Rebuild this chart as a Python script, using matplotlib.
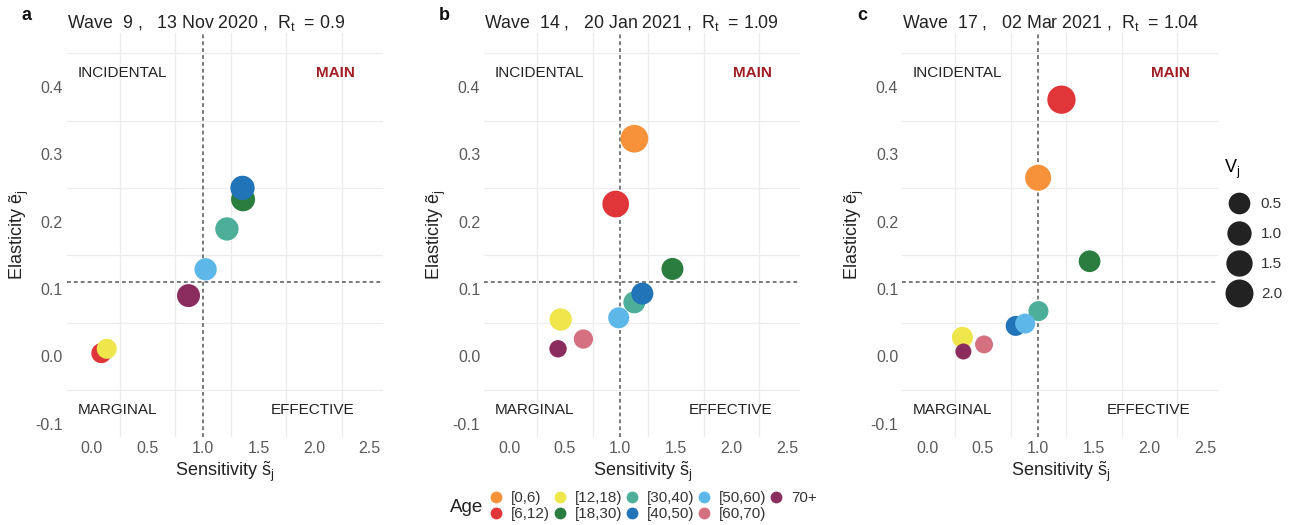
import matplotlib
matplotlib.use("Agg")
import matplotlib.pyplot as plt
from matplotlib.lines import Line2D
import numpy as np

plt.rcParams['font.family'] = ['Liberation Sans', 'DejaVu Sans']
plt.rcParams['mathtext.fontset'] = 'custom'
plt.rcParams['mathtext.rm'] = 'Liberation Sans'
plt.rcParams['mathtext.it'] = 'Liberation Sans'
plt.rcParams['mathtext.bf'] = 'Liberation Sans:bold'

# ---------------- data ----------------
age_groups = ["[0,6)", "[6,12)", "[12,18)", "[18,30)", "[30,40)",
              "[40,50)", "[50,60)", "[60,70)", "70+"]
age_colors = ["#F7923A", "#E0363A", "#EEE64A", "#2A7D3F", "#4DAE9A",
              "#2274B8", "#5DB7E8", "#D4707F", "#8A2D5E"]

panel_letters = ["a", "b", "c"]
wave_numbers = [9, 14, 17]
wave_dates = ["13 Nov 2020", "20 Jan 2021", "02 Mar 2021"]
rt_values = ["0.9", "1.09", "1.04"]

# sensitivity, elasticity, V per age group (None = not shown)
sens_a = [None, 0.084, 0.133, 1.36, 1.215, 1.355, 1.023, None, 0.869]
elas_a = [None, 0.0045, 0.011, 0.233, 0.189, 0.250, 0.129, None, 0.090]
vol_a = [None, 0.27, 0.27, 0.93, 0.79, 1.0, 0.60, None, 0.73]

sens_b = [1.126, 0.958, 0.463, 1.469, 1.126, 1.198, 0.985, 0.667, 0.439]
elas_b = [0.323, 0.226, 0.0545, 0.1296, 0.080, 0.093, 0.057, 0.0255, 0.011]
vol_b = [1.91, 1.61, 0.60, 0.55, 0.55, 0.55, 0.40, 0.19, 0.05]

sens_c = [0.998, 1.208, 0.316, 1.461, 1.001, 0.796, 0.881, 0.511, 0.325]
elas_c = [0.265, 0.381, 0.028, 0.141, 0.067, 0.045, 0.0485, 0.0175, 0.007]
vol_c = [1.42, 2.10, 0.40, 0.50, 0.27, 0.27, 0.27, 0.08, 0.005]

sens_threshold = 1.0
elas_threshold = 0.11
size_breaks = [0.5, 1.0, 1.5, 2.0]

x_ticks = [0.0, 0.5, 1.0, 1.5, 2.0, 2.5]
y_ticks = [-0.1, 0.0, 0.1, 0.2, 0.3, 0.4]
x_tick_labels = ["0.0", "0.5", "1.0", "1.5", "2.0", "2.5"]
y_tick_labels = ["-0.1", "0.0", "0.1", "0.2", "0.3", "0.4"]

panels = [(sens_a, elas_a, vol_a), (sens_b, elas_b, vol_b), (sens_c, elas_c, vol_c)]


def diam_pt(v):
    d_px = 15.4 + 8.9 * np.sqrt(max(v, 0))
    return d_px * 0.72


# ---------------- figure ----------------
fig = plt.figure(figsize=(12.95, 5.25), dpi=100)
lefts = [67, 484.3, 902.3]
W, H = 1295, 525
ax_w = 316
top_px, bot_px = 33, 437

tick_col = "#5a5a5a"
grid_col = "#ececec"

for i, (sx, ey, vv) in enumerate(panels):
    ax = fig.add_axes([lefts[i] / W, 1 - bot_px / H, ax_w / W, (bot_px - top_px) / H])
    ax.set_xlim(-0.225, 2.62)
    ax.set_ylim(-0.12, 0.48)
    for s in ax.spines.values():
        s.set_visible(False)
    ax.set_xticks(x_ticks)
    ax.set_xticklabels(x_tick_labels)
    ax.set_yticks(y_ticks)
    ax.set_yticklabels(y_tick_labels)
    ax.set_xticks(np.arange(0.25, 2.6, 0.5), minor=True)
    ax.set_yticks(np.arange(-0.05, 0.46, 0.1), minor=True)
    ax.tick_params(which='both', length=0)
    ax.tick_params(axis='both', labelsize=11.5, labelcolor=tick_col, pad=3)
    ax.grid(which='minor', color=grid_col, linewidth=0.9)
    ax.grid(which='major', visible=False)
    ax.set_axisbelow(True)

    ax.axvline(sens_threshold, color="#555555", linestyle=(0, (2.5, 2)), linewidth=1.1, zorder=1)
    ax.axhline(elas_threshold, color="#555555", linestyle=(0, (2.5, 2)), linewidth=1.1, zorder=1)

    for k in range(len(age_groups)):
        if sx[k] is None:
            continue
        ax.scatter([sx[k]], [ey[k]], s=diam_pt(vv[k]) ** 2, color=age_colors[k],
                   edgecolors='none', zorder=3 + k)

    qfs = 11
    ax.text(0.27, 0.42, "INCIDENTAL", ha='center', va='center', fontsize=qfs, color="#222222")
    ax.text(2.19, 0.42, "MAIN", ha='center', va='center', fontsize=qfs, color="#A11F24",
            fontweight='bold')
    ax.text(0.23, -0.08, "MARGINAL", ha='center', va='center', fontsize=qfs, color="#222222")
    ax.text(1.99, -0.08, "EFFECTIVE", ha='center', va='center', fontsize=qfs, color="#222222")

    ax.set_xlabel(r"Sensitivity $\tilde{s}_j$", fontsize=13, color="#222222", labelpad=2)
    ax.set_ylabel("Elasticity ẽ$_j$", fontsize=13, color="#222222", labelpad=3)

    title = f"Wave  {wave_numbers[i]} ,   {wave_dates[i]} ,  R$_t$  = {rt_values[i]}"
    ax.set_title(title, loc='left', fontsize=12.8, color="#222222", pad=3, x=0.0)

    fig.text((lefts[i] - 40) / W, 1 - 16 / H, panel_letters[i], fontsize=13,
             fontweight='bold', ha='center', va='center', color="#111111")

# size legend
size_handles = [Line2D([], [], linestyle='none', marker='o', markersize=diam_pt(b),
                       markerfacecolor="#222222", markeredgecolor='none') for b in size_breaks]
leg_size = fig.legend(size_handles, [f"{b:.1f}" for b in size_breaks],
                      loc='upper left', bbox_to_anchor=(1218 / W, 1 - 152 / H),
                      frameon=False, fontsize=11, labelspacing=1.05,
                      handletextpad=0.4, borderaxespad=0, title="V$_j$",
                      title_fontsize=13)
leg_size._legend_box.align = "left"
for t in leg_size.get_texts():
    t.set_color("#333333")

# age legend
age_handles = [Line2D([], [], linestyle='none', marker='o', markersize=8.5,
                      markerfacecolor=c, markeredgecolor='none') for c in age_colors]
leg_age = fig.legend(age_handles, age_groups, loc='center left',
                     bbox_to_anchor=(482 / W, 1 - 506 / H), ncol=5, frameon=False,
                     fontsize=11, labelspacing=0.12, handletextpad=0.5,
                     columnspacing=0.12, handlelength=1.0, borderaxespad=0)
for t in leg_age.get_texts():
    t.set_color("#333333")
fig.text(450 / W, 1 - 508 / H, "Age", fontsize=13.5, ha='left', va='center', color="#222222")

fig.savefig("out.png", dpi=100)
